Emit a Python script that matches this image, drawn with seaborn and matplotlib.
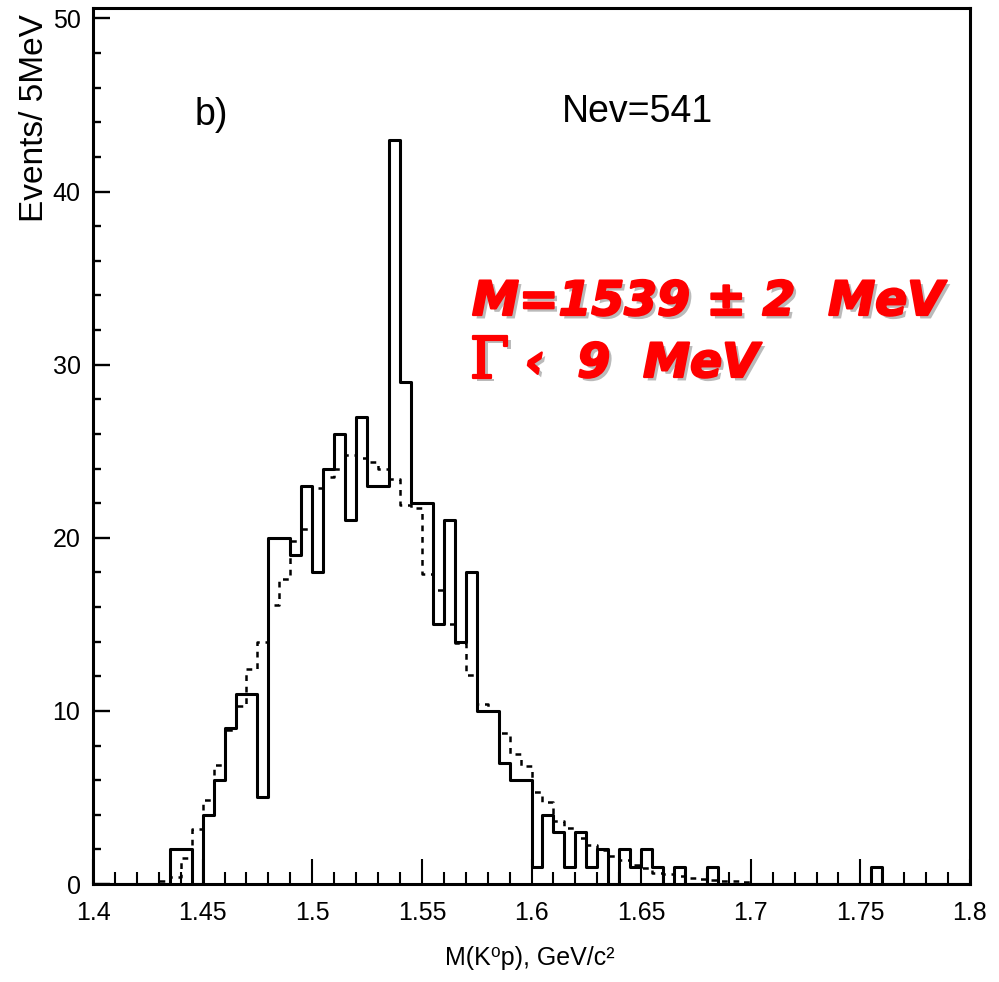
import numpy as np
import pandas as pd
import matplotlib
matplotlib.use("Agg")
import matplotlib.pyplot as plt
import matplotlib.patheffects as pe
from matplotlib.ticker import MultipleLocator
import seaborn as sns

# ---- data (5 MeV bins from 1.400 to 1.800 GeV) ----
bin_lo = 1.40
bin_hi = 1.80
bin_w = 0.005

counts = [0, 0, 0, 0, 0, 0, 0, 2, 2, 0,
          4, 6, 9, 11, 11, 5, 20, 20, 19, 23,
          18, 24, 26, 21, 27, 23, 23, 43, 29, 22,
          22, 15, 21, 14, 18, 10, 10, 7, 6, 6,
          1, 4, 3, 1, 3, 1, 2, 0, 2, 1,
          2, 1, 0, 1, 0, 0, 1, 0, 0, 0,
          0, 0, 0, 0, 0, 0, 0, 0, 0, 0,
          0, 1, 0, 0, 0, 0, 0, 0, 0, 0]

background = [0, 0, 0, 0, 0, 0, 0.15, 0.4, 1.5, 3.2,
              4.85, 6.9, 8.9, 10.3, 12.4, 14.0, 16.1, 17.6, 19.8, 20.5,
              22.9, 23.5, 24.0, 24.8, 24.6, 24.4, 24.0, 23.4, 21.9, 21.7,
              17.9, 17.0, 15.0, 13.9, 12.1, 10.4, 10.0, 8.7, 7.5, 6.8,
              5.3, 4.75, 3.65, 3.25, 2.65, 2.25, 1.95, 1.6, 1.4, 1.1,
              0.9, 0.65, 0.55, 0.45, 0.35, 0.3, 0.25, 0.2, 0.15, 0.1,
              0, 0, 0, 0, 0, 0, 0, 0, 0, 0,
              0, 0, 0, 0, 0, 0, 0, 0, 0, 0]

x_ticks = [1.4, 1.45, 1.5, 1.55, 1.6, 1.65, 1.7, 1.75, 1.8]
x_tick_labels = ["1.4", "1.45", "1.5", "1.55", "1.6", "1.65", "1.7", "1.75", "1.8"]
y_ticks = [0, 10, 20, 30, 40, 50]

nev_text = "Nev=541"
panel_text = "b)"
mass_text = "M=1539 ± 2  MeV"
width_text = "‹  9  MeV"

# ---- build table ----
n_bins = len(counts)
edges = [round(bin_lo + bin_w * i, 4) for i in range(n_bins + 1)]
centers = [(edges[i] + edges[i + 1]) / 2 for i in range(n_bins)]
df = pd.DataFrame({"mass": centers, "data": counts, "mc": background})

sns.set_style("white")
narrow = ["Liberation Sans Narrow", "Liberation Sans", "DejaVu Sans"]
plt.rcParams["font.family"] = narrow
plt.rcParams["text.color"] = "black"
plt.rcParams["xtick.color"] = "black"
plt.rcParams["ytick.color"] = "black"

fig = plt.figure(figsize=(9.99, 9.82), dpi=100)
W, H = 999, 982
ax = fig.add_axes([93 / W, (982 - 884) / H, 877 / W, 876 / H])

sns.histplot(data=df, x="mass", weights="mc", bins=edges, element="step",
             fill=False, color="black", linewidth=1.8,
             linestyle=(0, (2.3, 2.3)), ax=ax)
sns.histplot(data=df, x="mass", weights="data", bins=edges, element="step",
             fill=False, color="black", linewidth=2.2, ax=ax)

ax.set_xlim(bin_lo, bin_hi)
ax.set_ylim(0, 50.6)
ax.set_xlabel("")
ax.set_ylabel("")

ax.set_xticks(x_ticks)
ax.set_xticklabels(x_tick_labels)
ax.xaxis.set_minor_locator(MultipleLocator(0.01))
ax.set_yticks(y_ticks)
ax.yaxis.set_minor_locator(MultipleLocator(2))

ax.tick_params(axis="x", which="major", direction="in", length=18, width=1.5,
               labelsize=18, pad=12, bottom=True, top=False, colors="black")
ax.tick_params(axis="x", which="minor", direction="in", length=9, width=1.5,
               bottom=True, top=False, colors="black")
ax.tick_params(axis="y", which="major", direction="in", length=12, width=1.7,
               labelsize=18, pad=9, left=True, right=False, colors="black")
ax.tick_params(axis="y", which="minor", direction="in", length=6, width=1.7,
               left=True, right=False, colors="black")

for side, s in ax.spines.items():
    s.set_visible(True)
    s.set_color("black")
    s.set_linewidth(2.2)

# axis titles
fig.text(35 / W, 1 - 14 / H, "Events/ 5MeV", rotation=90, ha="center", va="top",
         fontsize=24, family=["Liberation Sans", "DejaVu Sans"], color="black")
fig.text(530 / W, 1 - 958 / H, "M(K⁰p), GeV/c²", ha="center", va="center",
         fontsize=18, family=narrow, color="black")

# annotations
fig.text(195 / W, 1 - 125 / H, panel_text, ha="left", va="baseline",
         fontsize=27, family=narrow, color="black")
fig.text(562 / W, 1 - 122 / H, nev_text, ha="left", va="baseline",
         fontsize=27, family=narrow, color="black")

shadow = [pe.withSimplePatchShadow(offset=(2.5, -2.5), shadow_rgbFace="0.55", alpha=0.6),
          pe.Stroke(linewidth=1.6, foreground="#ff0000", joinstyle="round"),
          pe.Normal()]
fig.text(472 / W, 1 - 315 / H, mass_text, ha="left", va="baseline",
         fontsize=34, color="#ff0000", fontweight="bold", fontstyle="italic",
         family=["DejaVu Sans"], path_effects=shadow)
fig.text(470 / W, 1 - 378 / H, "Γ", ha="left", va="baseline",
         fontsize=41, color="#ff0000", family=["DejaVu Serif"], path_effects=shadow)
fig.text(525 / W, 1 - 377 / H, width_text, ha="left", va="baseline",
         fontsize=34, color="#ff0000", fontweight="bold", fontstyle="italic",
         family=["DejaVu Sans"], path_effects=shadow)

fig.savefig("out.png", dpi=100, facecolor="white")
